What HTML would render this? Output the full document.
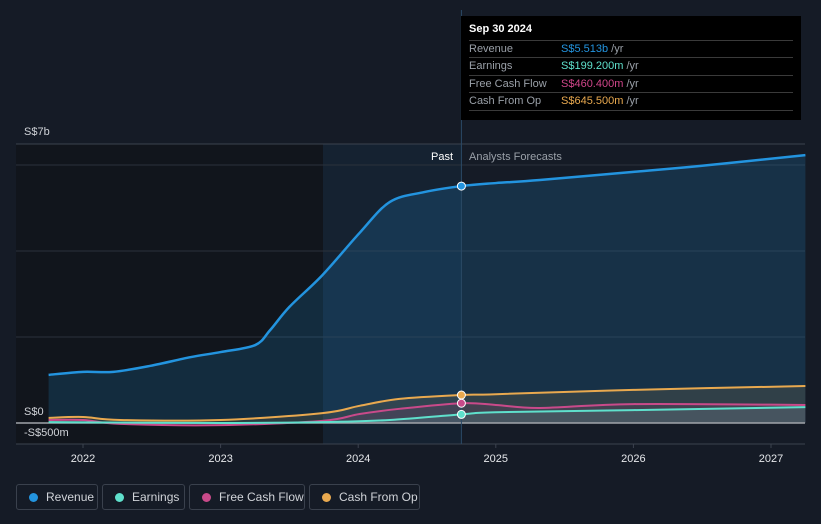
<!DOCTYPE html>
<html><head><meta charset="utf-8"><style>
html,body{margin:0;padding:0;background:#151b26;width:821px;height:524px;overflow:hidden;font-family:"Liberation Sans",sans-serif}
svg{position:absolute;left:0;top:0}
.leg{position:absolute;top:484px;height:26px;border:1px solid #3a414d;border-radius:3px;box-sizing:border-box;color:#d0d3d8;font-size:12px;line-height:24px;padding-left:29px;white-space:nowrap;overflow:hidden}
.leg i{position:absolute;left:12px;top:8px;width:9px;height:9px;border-radius:50%}
.tip{position:absolute;left:461px;top:16px;width:340px;height:104px;background:#000;color:#fff;font-size:11px}
.tip .r{position:absolute;left:8px;width:324px;border-top:1px solid #3a3a3a;height:17px;line-height:17px;color:#9aa0a8}
.tip .r b{font-weight:normal;position:absolute;left:92px}
.tip .r span{color:#9aa0a8}
</style></head><body>
<svg id="c" width="821" height="524"></svg>
<div class="tip">
<div style="position:absolute;left:8px;top:7px;font-weight:bold;font-size:11px">Sep 30 2024</div>
<div class="r" style="top:24px">Revenue<b style="color:#2394df">S$5.513b <span>/yr</span></b></div>
<div class="r" style="top:41px">Earnings<b style="color:#5fe0cc">S$199.200m <span>/yr</span></b></div>
<div class="r" style="top:59px">Free Cash Flow<b style="color:#d0468a">S$460.400m <span>/yr</span></b></div>
<div class="r" style="top:76px">Cash From Op<b style="color:#e9a94f">S$645.500m <span>/yr</span></b></div>
<div style="position:absolute;left:8px;top:94px;width:324px;border-top:1px solid #3a3a3a"></div>
</div>
<div class="leg" style="left:16px;width:82px"><i style="background:#2394df"></i>Revenue</div>
<div class="leg" style="left:102px;width:83px"><i style="background:#5fe0cc"></i>Earnings</div>
<div class="leg" style="left:189px;width:116px"><i style="background:#c94a8a"></i>Free Cash Flow</div>
<div class="leg" style="left:309px;width:111px"><i style="background:#e9a94f"></i>Cash From Op</div>
<script>
const revT=[2021.75,2022,2022.22,2022.49,2022.78,2023,2023.25,2023.36,2023.5,2023.74,2024.01,2024.23,2024.48,2024.75,2025,2025.32,2026,2026.49,2027.25];
const revV=[1.12,1.19,1.19,1.33,1.53,1.65,1.81,2.16,2.7,3.44,4.42,5.14,5.37,5.51,5.58,5.65,5.84,5.98,6.23];
const cfoT=[2021.75,2022,2022.27,2023,2023.74,2024.01,2024.3,2024.75,2025,2026,2027.25];
const cfoV=[0.12,0.14,0.07,0.07,0.23,0.4,0.56,0.65,0.67,0.77,0.86];
const fcfT=[2021.75,2022,2022.27,2023,2023.74,2024.01,2024.3,2024.75,2025,2025.32,2026,2027.25];
const fcfV=[0.07,0.07,-0.02,-0.05,0.05,0.21,0.33,0.46,0.42,0.35,0.44,0.42];
const earT=[2021.75,2023,2023.74,2024.23,2024.75,2025,2026,2027.25];
const earV=[0.02,0,0.02,0.07,0.2,0.25,0.3,0.37];
const xTicks=[2022,2023,2024,2025,2026,2027];
const X=t=>83+(t-2022)*137.6, Y=v=>423-v*43;
const s=document.getElementById('c'),NS='http://www.w3.org/2000/svg';
function el(tag,a,p){const e=document.createElementNS(NS,tag);for(const k in a)e.setAttribute(k,a[k]);(p||s).appendChild(e);return e;}
function path(T,V){const P=T.map((t,i)=>[X(t),Y(V[i])]);let d='M'+P[0];for(let i=0;i<P.length-1;i++){const p0=P[i-1]||P[i],p1=P[i],p2=P[i+1],p3=P[i+2]||p2;d+=' C'+(p1[0]+(p2[0]-p0[0])/6)+','+(p1[1]+(p2[1]-p0[1])/6)+' '+(p2[0]-(p3[0]-p1[0])/6)+','+(p2[1]-(p3[1]-p1[1])/6)+' '+p2;}return d;}
const xp=X(2024.75);
let r=el('rect',{x:16,y:144,width:307,height:300,fill:'#11151c'});
r=el('rect',{x:323,y:144,width:xp-323,height:300,fill:'#152231'});
[165,251,337].forEach(y=>{const g=el('line',{x1:16,x2:805,y1:y,y2:y,stroke:'#2a313c','stroke-width':1});});
let g=el('line',{x1:16,x2:805,y1:144,y2:144,stroke:'#3c434e'});
g=el('line',{x1:16,x2:805,y1:444,y2:444,stroke:'#3c434e'});
const series=[[revT,revV,'#2394df','revenue'],[cfoT,cfoV,'#e9a94f','cash-from-op'],[fcfT,fcfV,'#c94a8a','free-cash-flow'],[earT,earV,'#5fe0cc','earnings']];
series.forEach(([T,V,c,n],i)=>{const d=path(T,V);const a=el('path',{d:d+' L'+X(T[T.length-1])+','+Y(0)+' L'+X(T[0])+','+Y(0)+'Z',fill:c,'fill-opacity':i==0?0.18:0.12});});
g=el('line',{x1:16,x2:805,y1:423,y2:423,stroke:'#a0a4aa','stroke-width':1.5});
series.forEach(([T,V,c,n])=>{const l=el('path',{d:path(T,V),fill:'none',stroke:c,'stroke-width':n=='revenue'?2.5:2});});
g=el('line',{x1:xp,x2:xp,y1:10,y2:444,stroke:'#2b4a66'});
series.forEach(([T,V,c,n])=>{const i=T.indexOf(2024.75);const p=el('circle',{cx:xp,cy:Y(V[i]),r:4,fill:c,stroke:'#fff','stroke-width':1});});
function tx(x,y,t,a,n){const e=el('text',{x,y,fill:a.fill||'#d0d3d8','font-size':a.fs||11,'text-anchor':a.anchor||'start','font-family':'Liberation Sans, sans-serif'});e.textContent=t;}
tx(24,135,'S$7b',{},'y-label-top');tx(24,415,'S$0',{},'y-label-zero');tx(24,436,'-S$500m',{},'y-label-neg');
tx(453,160,'Past',{anchor:'end',fill:'#fff'},'past-label');tx(469,160,'Analysts Forecasts',{fill:'#9aa0a8'},'forecast-label');
xTicks.forEach(t=>{const k=el('line',{x1:X(t),x2:X(t),y1:444,y2:448,stroke:'#3c434e'});tx(X(t),462,String(t),{anchor:'middle',fill:'#e6e8eb'},'x-tick-label');});
</script>
</body></html>
